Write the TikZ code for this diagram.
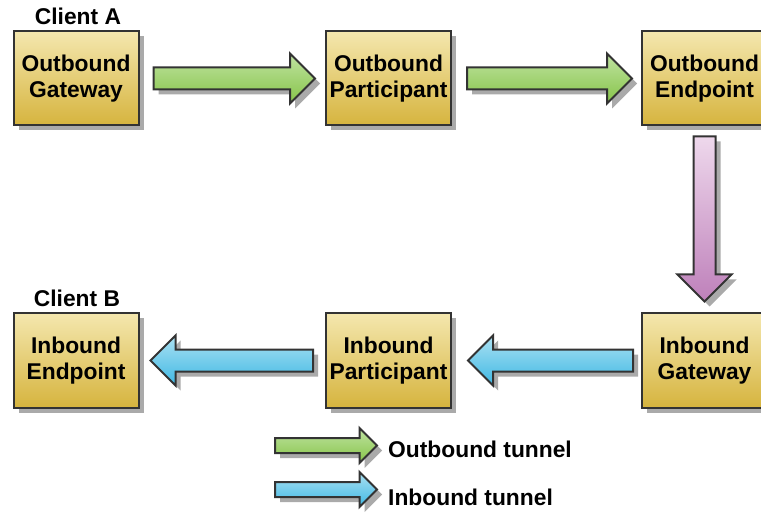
\documentclass[tikz,border=0pt]{standalone}
\usepackage{fontspec}
\setmainfont{Liberation Sans}
\usetikzlibrary{calc,positioning,shadows}

\definecolor{boxtop}{RGB}{244,231,174}
\definecolor{boxbot}{RGB}{214,180,62}
\definecolor{edgegray}{RGB}{51,51,51}
\definecolor{greentop}{RGB}{192,227,162}
\definecolor{greenbot}{RGB}{134,196,72}
\definecolor{bluetop}{RGB}{172,225,242}
\definecolor{bluebot}{RGB}{62,184,228}
\definecolor{pinktop}{RGB}{238,216,236}
\definecolor{pinkbot}{RGB}{190,128,186}
\definecolor{shadowgray}{RGB}{170,170,170}

\tikzset{
	shade5/.style = {drop shadow={shadow xshift=5pt, shadow yshift=-5pt, opacity=1, fill=shadowgray}},
	hop/.style = {rectangle, draw=edgegray, line width=2pt, top color=boxtop, bottom color=boxbot,
		minimum width=125pt, minimum height=94pt, align=center, shade5,
		font=\bfseries\fontsize{22.8}{26}\selectfont},
	client/.style = {anchor=base, font=\bfseries\fontsize{22.8}{26}\selectfont},
	legend/.style = {anchor=base west, inner sep=0pt, font=\bfseries\fontsize{22.8}{26}\selectfont},
	tun/.style = {draw=edgegray, line width=2pt, line join=miter, shade5},
	outtun/.style = {tun, top color=greentop, bottom color=greenbot},
	intun/.style = {tun, top color=bluetop, bottom color=bluebot},
	swaptun/.style = {tun, top color=pinktop, bottom color=pinkbot}
}

% #1 style, #2 from, #3 to, #4 gap at from, #5 gap at to, #6 half shaft, #7 half head
\newcommand\tunnelarrow[7]{%
	\path ($(#2)!#4!(#3)$) coordinate (ta-s) ($(#3)!#5!(#2)$) coordinate (ta-e);
	\path ($(ta-e)!#7!(ta-s)$) coordinate (ta-b);
	\draw[#1] ($(ta-s)!#6!90:(ta-e)$) -- ($(ta-b)!#6!90:(ta-e)$) -- ($(ta-b)!#7!90:(ta-e)$)
		-- (ta-e) -- ($(ta-b)!#7!-90:(ta-e)$) -- ($(ta-b)!#6!-90:(ta-e)$)
		-- ($(ta-s)!#6!-90:(ta-e)$) -- cycle;
}

\begin{document}
\begin{tikzpicture}[x=1pt, y=-1pt]
	\clip (0,0) rectangle (761,513);

	\node[hop] (obgw) at (76,78.5) {Outbound\\Gateway};
	\node[hop] (obpt) at (388.5,78.5) {Outbound\\Participant};
	\node[hop] (obep) at (704.5,78.5) {Outbound\\Endpoint};
	\node[hop] (ibgw) at (704.5,360.5) {Inbound\\Gateway};
	\node[hop] (ibpt) at (388.5,360.5) {Inbound\\Participant};
	\node[hop] (ibep) at (76,360.5) {Inbound\\Endpoint};

	\node[client] (cla) at (78,25) {Client A};
	\node[client] (clb) at (77,307) {Client B};

	% tunnels
	\tunnelarrow{outtun}{obgw.east}{obpt.west}{14pt}{10pt}{11pt}{25pt}
	\tunnelarrow{outtun}{obpt.east}{obep.west}{15pt}{9pt}{11pt}{25pt}
	\tunnelarrow{swaptun}{obep.south}{ibgw.north}{10pt}{11pt}{11pt}{27pt}
	\tunnelarrow{intun}{ibgw.west}{ibpt.east}{8pt}{16pt}{11pt}{25pt}
	\tunnelarrow{intun}{ibpt.west}{ibep.east}{12pt}{11pt}{11pt}{25pt}

	% legend
	\node[legend] (lgout) at (388,457) {Outbound tunnel};
	\node[legend] (lgin) at (388,505) {Inbound tunnel};
	\coordinate (lgo) at (263,445.5);
	\coordinate (lgi) at (263,489.5);
	\tunnelarrow{outtun}{lgo}{lgo -| lgout.west}{12pt}{11pt}{7.5pt}{17.5pt}
	\tunnelarrow{intun}{lgi}{lgi -| lgin.west}{12pt}{11pt}{7.5pt}{17.5pt}
\end{tikzpicture}
\end{document}
